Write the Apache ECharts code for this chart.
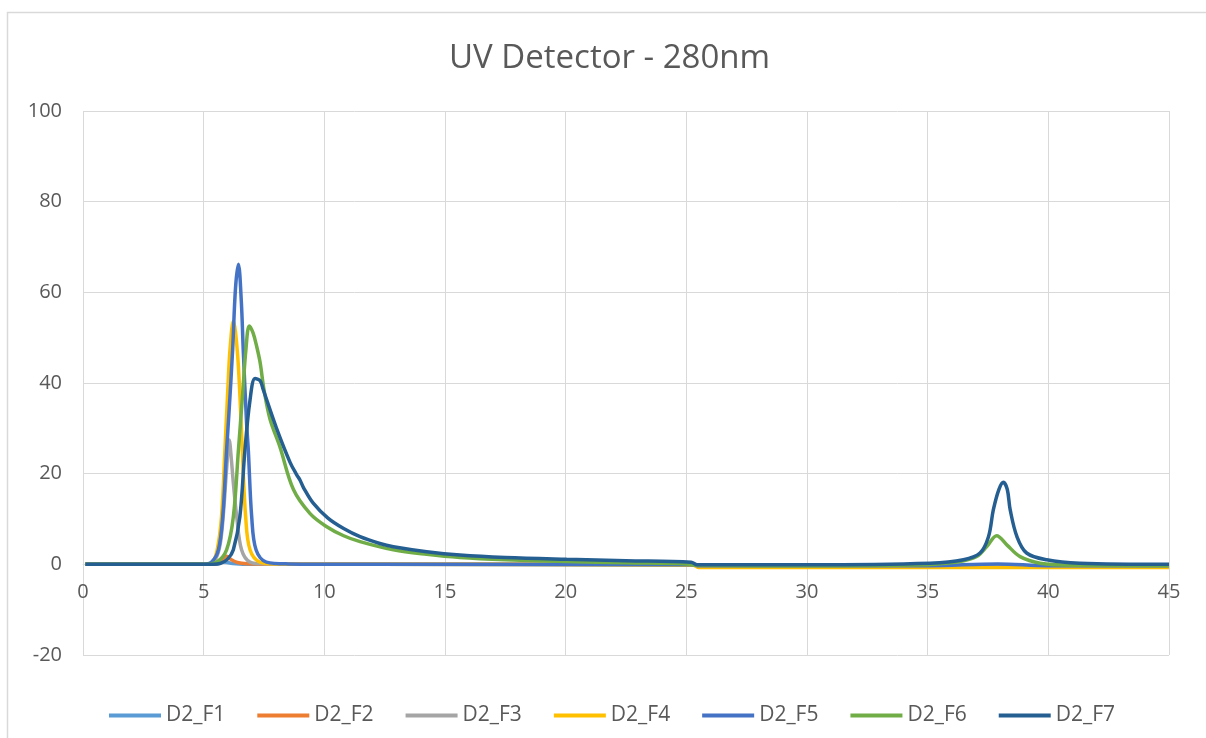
<!DOCTYPE html>
<html>
<head>
<meta charset="utf-8">
<title>UV Detector - 280nm</title>
<script src="https://cdn.jsdelivr.net/npm/echarts@6/dist/echarts.min.js"></script>
<style>
  html, body { margin: 0; padding: 0; background: #ffffff; }
  #chart { width: 1206px; height: 738px; }
</style>
</head>
<body>
<div id="chart"></div>
<script>
// Retention time (min) and absorbance at 280 nm for each fraction
const seriesNames = ['D2_F1', 'D2_F2', 'D2_F3', 'D2_F4', 'D2_F5', 'D2_F6', 'D2_F7'];
const seriesColors = ['#5B9BD5', '#ED7D31', '#A5A5A5', '#FFC000', '#4472C4', '#70AD47', '#255E91'];

const xTicks = [0, 5, 10, 15, 20, 25, 30, 35, 40, 45];
const yTicks = [-20, 0, 20, 40, 60, 80, 100];

const timeF1   = [0.1, 5.5, 5.85, 6.2, 7.0, 25.3, 25.5, 45];
const signalF1 = [0,   0,   0.5,  0.2, 0,   0,    -0.3, -0.3];

const timeF2   = [0.1, 5.4, 5.7, 5.95, 6.15, 6.4, 6.8, 8.0, 25.3, 25.5, 45];
const signalF2 = [0,   0,   0.6, 1.8,  1.0,  0.4, 0.15, 0,  0,    -0.3, -0.3];

const timeF3   = [0.1, 5.0, 5.4, 5.65, 5.8, 5.95, 6.06, 6.15, 6.23, 6.37, 6.57, 6.92, 7.5, 12, 25.3, 25.5, 45];
const signalF3 = [0,   0,   0.5, 3.5,  10,  21,   27.4, 23,   17.9, 10.5, 3.2,  0.5,  0.1, 0,  -0.1, -0.3, -0.3];

const timeF4   = [0.1, 5.0, 5.35, 5.56, 5.74, 5.88, 6.0,  6.09, 6.23, 6.39, 6.51, 6.6,  6.74, 6.92, 7.33, 8.0, 12, 25.3, 25.5, 45];
const signalF4 = [0,   0,   0.4,  3.2,  10.5, 25.2, 38.5, 47.3, 53.7, 47.3, 36.3, 25.2, 10.5, 3.2,  0.5,  0.1, 0,  -0.2, -0.7, -0.7];

const timeF5   = [0.1, 5.0, 5.33, 5.61, 5.79, 5.95, 6.05, 6.2,  6.32, 6.44, 6.56, 6.64, 6.78, 6.85, 6.99, 7.17, 7.6, 8.5, 12, 25.3, 25.5, 35,   37.9, 40,   45];
const signalF5 = [0,   0,   0.5,  3.2,  10.5, 25.2, 33.5, 47.3, 61,   66.2, 58,   47.3, 31,   25.2, 10.5, 3.2,  0.5, 0.1, 0,  -0.1, -0.3, -0.3, 0.1,  -0.3, -0.3];

const timeF6   = [0.1, 5.0, 5.54, 5.95, 6.23, 6.44, 6.62, 6.75, 6.89, 7.05, 7.2, 7.34, 7.5,  7.75, 8.16, 8.72, 9.41, 10.1, 10.8, 11.48, 12.86, 14.24, 15.62, 17.5, 20.04, 22.5, 25.0, 25.4, 30,   35,   35.8, 36.5, 37.03, 37.45, 37.86, 38.28, 38.83, 39.66, 41,   45];
const signalF6 = [0,   0,   0.5,  3.2,  10.5, 25.2, 38,   47.3, 52.6, 51,   48,  44.5, 38.5, 32,   25.9, 16.5, 11.2, 8.3,  6.3,  5.0,   3.2,   2.2,   1.5,   1.0,  0.6,   0.35, 0.1,  -0.2, -0.3, -0.1, 0.25, 0.8,  1.7,   3.9,   6.3,   4.3,   1.7,   0.25,  -0.2, -0.3];

const timeF7   = [0.1, 5.0, 5.68, 6.0, 6.23, 6.5,  6.71, 6.92, 7.13, 7.34, 7.47, 8.02, 8.58, 8.85, 9.0,  9.13, 9.54, 10.15, 10.8, 11.48, 12.3, 12.86, 14.24, 15.62, 17.5, 20.04, 22.5, 25.2, 25.45, 30,   35.1, 36.48, 37.17, 37.52, 37.72, 37.95, 38.14, 38.3, 38.42, 38.7, 39.1, 39.93, 41.3, 45];
const signalF7 = [0,   0,   0.2,  1.2, 3.2,  10.5, 25.2, 36.2, 41.0, 40.5, 38.5, 30,   22.5, 19.8, 18.5, 17,   13.5, 10.2,  7.9,  6.1,   4.6,  3.9,   2.8,   2.05,  1.5,  1.1,   0.8,  0.45, -0.1,  -0.1, 0.25, 1.0,   2.5,   6.1,   12.0,  16.5,  18.1,  16.5, 12.0,  6.1,  2.5,  1.0,   0.25, 0];

const seriesTimes = [timeF1, timeF2, timeF3, timeF4, timeF5, timeF6, timeF7];
const seriesSignals = [signalF1, signalF2, signalF3, signalF4, signalF5, signalF6, signalF7];

const textColor = '#595959';
const gridColor = '#d9d9d9';
const fontFamily = '"Open Sans", "Noto Sans", sans-serif';

// Plot box geometry; the time axis is drawn along the zero line of the signal axis
const gridTop = 111;
const gridBottom = 83;
const chartHeight = 738;
const plotHeight = chartHeight - gridTop - gridBottom;
const yMin = yTicks[0];
const yMax = yTicks[yTicks.length - 1];
const zeroOffset = -plotHeight * (0 - yMin) / (yMax - yMin);

const chart = echarts.init(document.getElementById('chart'), null, { renderer: 'canvas' });

const series = seriesNames.map((name, k) => ({
  name: name,
  type: 'line',
  data: seriesTimes[k].map((t, i) => [t, seriesSignals[k][i]]),
  symbol: 'none',
  smooth: 0.35,
  lineStyle: { color: seriesColors[k], width: 3.5 },
  itemStyle: { color: seriesColors[k] },
  emphasis: { disabled: true }
}));

chart.setOption({
  animation: false,
  backgroundColor: '#ffffff',
  graphic: [{
    type: 'rect',
    shape: { x: 7.5, y: 12.5, width: 1400, height: 900 },
    style: { fill: 'none', stroke: gridColor, lineWidth: 1.5 },
    silent: true
  }],
  title: {
    text: 'UV Detector - 280nm',
    left: 444,
    top: 37,
    textStyle: { color: textColor, fontFamily: fontFamily, fontSize: 33, fontWeight: 'normal' }
  },
  grid: { left: 83, right: 37, top: gridTop, bottom: gridBottom, containLabel: false },
  xAxis: {
    type: 'value',
    min: xTicks[0],
    max: xTicks[xTicks.length - 1],
    interval: 5,
    position: 'bottom',
    offset: zeroOffset,
    axisLine: { show: true, onZero: false, lineStyle: { color: gridColor } },
    axisTick: { show: false },
    axisLabel: { color: textColor, fontFamily: fontFamily, fontSize: 20, margin: 18 },
    splitLine: { show: true, lineStyle: { color: gridColor, width: 1 } }
  },
  yAxis: {
    type: 'value',
    min: yMin,
    max: yMax,
    interval: 20,
    axisLine: { show: false },
    axisTick: { show: false },
    axisLabel: { color: textColor, fontFamily: fontFamily, fontSize: 20, margin: 21 },
    splitLine: { show: true, lineStyle: { color: gridColor, width: 1 } }
  },
  legend: {
    data: seriesNames,
    left: 109,
    top: 705,
    padding: 0,
    icon: 'rect',
    itemWidth: 52,
    itemHeight: 4,
    itemGap: 32,
    textStyle: { color: textColor, fontFamily: fontFamily, fontSize: 21 }
  },
  series: series
});
</script>
</body>
</html>
